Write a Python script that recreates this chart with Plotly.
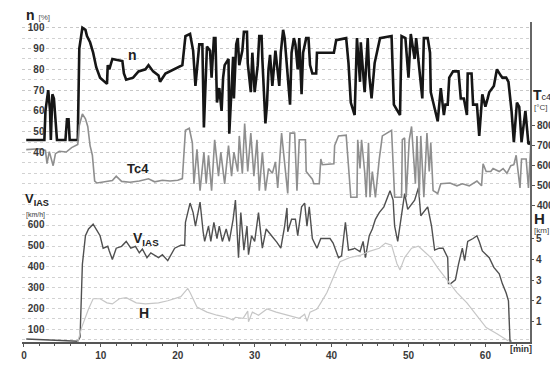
import plotly.graph_objects as go

# ---------------- data ----------------
# engine speed n [%]
n_t = [0.3, 2.66, 2.8, 3.16, 3.4, 3.5, 3.7, 3.9, 4.3, 5.4, 5.6, 5.8, 5.95, 7.0, 7.2, 7.6, 8.0, 8.2, 8.6, 9.0,
       9.4, 9.9, 10.8, 10.9, 11.1, 11.5, 12.8, 13.0, 13.3, 14.2, 14.9, 15.8, 16.2, 16.8, 17.5, 17.7,
       18.4, 19.6, 20.6, 21.0, 21.6, 22.0, 22.3, 22.8, 23.2, 23.4, 23.5, 23.8, 24.2, 24.4, 24.7, 24.9, 25.1,
       25.4, 25.7, 25.9, 26.1, 26.6, 26.7, 27.2, 27.3, 27.6, 27.8, 28.0, 28.4, 28.6, 29.0, 29.1, 29.5, 29.7,
       30.0, 30.4, 30.6, 30.9, 31.0, 31.4, 31.6, 31.8, 32.0, 32.3, 32.7, 32.9, 33.2, 33.4, 33.7, 33.9, 34.3,
       34.6, 34.8, 35.1, 35.3, 35.6, 35.8, 36.1, 36.3, 36.7, 37.0, 37.2, 37.5, 38.0, 38.1, 40.3, 40.6, 41.9,
       42.2, 42.5, 43.0, 43.3, 43.7, 43.8, 44.3, 44.7, 44.9, 45.2, 45.6, 45.9, 46.3, 47.8, 48.1, 48.9, 49.1,
       49.6, 50.0, 50.3, 50.8, 51.0, 51.4, 51.8, 52.0, 52.5, 52.8, 52.9, 53.8, 54.2, 54.6, 54.8, 55.1, 55.3,
       55.8, 56.5, 56.8, 57.2, 57.6, 57.7, 58.2, 58.4, 58.9, 59.2, 59.6, 60.0, 60.3, 60.5, 61.1, 61.5, 62.0,
       62.2, 62.7, 63.0, 63.4, 63.7, 64.1, 64.4, 64.7, 65.2, 65.6, 65.9]
n_v = [46, 46, 60, 70, 60, 46, 68, 66, 46, 46, 56, 56, 46, 46, 90, 100, 99, 96, 93, 88,
       81, 76, 73, 82, 80, 85, 84, 78, 75, 76, 79, 80, 82, 79, 77, 74,
       78, 80, 82, 96, 97, 89, 72, 92, 92, 52, 64, 91, 89, 76, 95, 95, 64,
       71, 60, 76, 82, 85, 49, 86, 66, 92, 95, 82, 89, 98, 98, 83, 69, 88,
       69, 82, 96, 96, 85, 54, 63, 80, 87, 72, 89, 82, 72, 88, 99, 95, 74,
       63, 88, 95, 92, 80, 95, 68, 88, 95, 95, 82, 78, 78, 88, 88, 94, 95,
       83, 64, 58, 95, 74, 93, 69, 95, 77, 66, 83, 88, 95, 96, 63, 58, 96,
       95, 76, 97, 85, 95, 82, 66, 95, 95, 88, 69, 55, 71, 58, 63, 63, 76,
       79, 79, 66, 66, 58, 78, 78, 63, 63, 48, 68, 62, 66, 69, 72, 80, 77,
       76, 76, 74, 60, 45, 64, 62, 45, 60, 44, 45]

# exhaust gas temperature Tc4 [deg C]
tc_t = [0.3, 2.0, 2.8, 3.0, 3.3, 3.8, 4.1, 4.6, 5.5, 6.2, 7.0, 7.2, 7.6, 8.0, 8.3, 8.6, 8.9, 9.2, 9.5, 10.5,
        11.5, 12.0, 12.7, 13.8, 15.0, 16.2, 17.0, 18.0, 19.0, 20.0, 20.6, 21.0, 21.5, 21.9, 22.1, 22.5, 22.9,
        23.4, 23.7, 24.0, 24.4, 24.8, 25.3, 25.6, 26.1, 26.6, 27.0, 27.3, 27.8, 28.0, 28.4, 28.7, 29.1, 29.5,
        29.9, 30.3, 30.6, 31.0, 31.4, 31.8, 32.3, 32.7, 33.0, 33.5, 33.9, 34.3, 34.6, 35.2, 35.5, 35.8, 36.6,
        36.7, 37.5, 37.7, 38.4, 38.6, 38.8, 40.3, 40.4, 40.9, 41.9, 42.2, 42.5, 43.3, 43.4, 43.7, 43.9, 44.3,
        44.5, 44.8, 45.0, 45.3, 45.7, 46.2, 46.6, 47.8, 48.2, 49.1, 49.2, 49.5, 49.7, 50.1, 50.4, 50.9, 51.1,
        51.4, 51.6, 52.0, 52.4, 52.7, 52.9, 53.2, 53.8, 54.2, 55.4, 56.3, 57.0, 57.9, 58.9, 59.5, 59.7, 60.1,
        60.7, 61.0, 61.8, 62.3, 62.8, 63.3, 63.7, 64.0, 64.5, 64.7, 65.3, 65.6, 65.9]
tc_v = [680, 684, 676, 610, 670, 600, 660, 672, 668, 690, 705, 800, 857, 833, 795, 700, 652, 524, 514, 520,
        526, 548, 522, 518, 524, 535, 520, 528, 524, 528, 536, 776, 786, 714, 510, 681, 476,
        667, 510, 652, 476, 729, 548, 667, 510, 700, 548, 667, 571, 748, 560, 810, 571, 762,
        548, 729, 476, 667, 476, 586, 562, 619, 490, 762, 600, 462, 762, 762, 476, 729, 729,
        571, 533, 510, 510, 633, 605, 610, 700, 748, 752, 619, 443, 443, 729, 586, 729, 571,
        443, 714, 443, 571, 443, 633, 748, 776, 443, 443, 729, 738, 443, 729, 795, 510, 748,
        443, 748, 443, 762, 571, 714, 476, 462, 510, 514, 500, 510, 500, 524, 500, 610, 571,
        571, 586, 571, 586, 562, 600, 605, 652, 490, 633, 633, 490, 700]

# indicated air speed V_IAS [km/h]
v_t = [0.3, 3.0, 5.0, 7.0, 7.3, 7.6, 8.0, 8.4, 9.0, 9.5, 9.9, 10.3, 10.9, 11.1, 11.5, 12.0, 12.7, 13.3, 13.9,
       14.5, 15.0, 15.4, 16.0, 16.5, 17.5, 18.0, 18.7, 19.6, 20.4, 20.9, 21.0, 21.6, 22.0, 22.3, 22.9, 23.3,
       23.5, 24.0, 24.3, 24.7, 25.1, 25.4, 25.8, 26.3, 26.7, 27.2, 27.5, 27.9, 28.2, 28.6, 29.0, 29.2, 29.6,
       30.0, 30.5, 31.0, 31.5, 32.2, 32.9, 33.4, 33.9, 34.2, 34.3, 34.8, 35.3, 35.6, 36.1, 36.5, 36.8, 37.1,
       37.5, 38.1, 38.6, 39.8, 40.2, 40.9, 41.3, 41.8, 42.2, 42.8, 43.0, 43.7, 44.1, 44.4, 44.9, 45.3, 45.7,
       46.2, 46.8, 47.6, 48.0, 48.2, 48.6, 49.5, 49.9, 50.8, 51.3, 51.6, 52.5, 53.0, 53.4, 54.0, 54.5, 55.1,
       55.2, 55.5, 56.1, 56.5, 57.0, 57.3, 57.7, 58.4, 58.9, 59.2, 59.6, 60.5, 61.1, 61.8, 62.2, 62.7, 63.0,
       63.2, 63.4]
v_v = [55, 52, 50, 45, 64, 410, 545, 577, 600, 568, 545, 486, 495, 473, 432, 486, 495, 518, 486,
       495, 464, 482, 441, 464, 441, 455, 427, 486, 500, 500, 609, 700, 655, 591, 705, 564,
       518, 591, 518, 609, 532, 591, 518, 577, 518, 623, 714, 441, 655, 477, 591, 455, 545,
       518, 655, 486, 577, 545, 514, 486, 591, 677, 564, 623, 623, 545, 682, 700, 591, 682,
       532, 486, 532, 532, 510, 441, 450, 609, 477, 482, 486, 470, 518, 441, 545, 577, 623,
       655, 682, 759, 714, 591, 518, 745, 670, 714, 773, 640, 682, 591, 477, 486, 486, 441,
       318, 318, 336, 409, 486, 427, 518, 532, 545, 518, 473, 441, 395, 364, 318, 273, 236,
       45, 45]

# altitude H [km]
h_t = [7.0, 7.5, 8.4, 9.0, 9.9, 10.8, 11.5, 12.4, 13.3, 14.6, 15.8, 17.5, 18.7, 20.4, 21.3, 21.6, 22.5, 23.8,
       25.1, 26.3, 27.2, 27.5, 28.5, 29.1, 29.2, 29.7, 30.5, 31.6, 32.8, 34.2, 35.8, 36.5, 36.8, 37.2, 38.1,
       38.6, 39.4, 40.3, 41.1, 42.4, 43.7, 44.9, 46.2, 47.0, 47.8, 48.5, 48.9, 49.5, 50.4, 51.3, 52.0, 52.9,
       53.8, 55.1, 56.3, 57.6, 58.9, 60.1, 61.5, 62.2, 63.0]
h_v = [0.0, 0.7, 1.6, 2.1, 2.1, 1.9, 1.85, 2.1, 2.15, 1.9, 1.85, 1.9, 2.0, 2.2, 2.6, 2.4, 1.7, 1.45,
       1.3, 1.2, 1.07, 1.2, 1.15, 1.5, 0.98, 1.45, 1.3, 1.6, 1.45, 1.3, 1.15, 1.35, 1.0, 1.45, 1.6,
       1.9, 2.4, 3.2, 3.9, 4.1, 4.2, 4.4, 4.55, 4.8, 4.7, 3.8, 3.5, 4.1, 4.55, 4.65, 4.4, 4.1,
       3.6, 3.0, 2.4, 1.9, 1.3, 0.7, 0.4, 0.23, 0.05]

# tick labels
x_ticks = [0, 10, 20, 30, 40, 50, 60]
n_ticks = [40, 50, 60, 70, 80, 90, 100]
v_ticks = [100, 200, 300, 400, 500, 600]
tc_ticks = [400, 500, 600, 700, 800]
h_ticks = [1, 2, 3, 4, 5]

# ---------------- figure ----------------
W, H = 558, 365
ML, MR, MT, MB = 14, 24, 14, 17
PW, PH = W - ML - MR, H - MT - MB

def px(x):
    return (x - ML) / PW

def py(y):
    return (H - MB - y) / PH

FONT = "Liberation Sans"
AX = "#555555"
N_RANGE = [-51.15, 102.76]
V_RANGE = [41, 1559]
LBL_POS = px(37)   # left tick labels sit just inside the plot, right of the axis line

fig = go.Figure()
fig.add_trace(go.Scatter(x=h_t, y=h_v, yaxis="y4", mode="lines",
                         line=dict(color="#c6c6c6", width=1.2), name="H"))
fig.add_trace(go.Scatter(x=tc_t, y=tc_v, yaxis="y3", mode="lines",
                         line=dict(color="#8e8e8e", width=1.6), name="Tc4"))
fig.add_trace(go.Scatter(x=v_t, y=v_v, yaxis="y2", mode="lines",
                         line=dict(color="#505050", width=1.4), name="VIAS"))
fig.add_trace(go.Scatter(x=n_t, y=n_v, yaxis="y", mode="lines",
                         line=dict(color="#161616", width=2.6), name="n"))

tickfont = dict(family=FONT, size=10, color="#3a3a3a", weight="bold")

fig.update_layout(
    width=W, height=H, showlegend=False,
    margin=dict(l=ML, r=MR, t=MT, b=MB, pad=0),
    paper_bgcolor="white", plot_bgcolor="white",
    xaxis=dict(range=[-0.25, 65.8], tickvals=x_ticks, ticks="outside", ticklen=3, tickcolor=AX,
               showline=True, linecolor=AX, linewidth=1.5, showgrid=False, zeroline=False,
               tickfont=tickfont,
               minor=dict(tickmode="linear", tick0=0, dtick=2, ticks="outside", ticklen=2, tickcolor=AX)),
    # n axis: labels (free position inside the plot) + dotted grid
    yaxis=dict(range=N_RANGE, tickvals=n_ticks, anchor="free", position=LBL_POS, side="left",
               ticks="", showline=False, tickfont=tickfont, zeroline=False,
               showgrid=True, gridcolor="#c8c8c8", griddash="dot", gridwidth=1,
               minor=dict(tickmode="linear", tick0=0, dtick=5, showgrid=True, gridcolor="#d2d2d2",
                          griddash="dot", gridwidth=1)),
    # V_IAS axis labels
    yaxis2=dict(range=V_RANGE, tickvals=v_ticks, overlaying="y", anchor="free", position=LBL_POS,
                side="left", ticks="", showgrid=False, zeroline=False, tickfont=tickfont),
    yaxis3=dict(range=[-276, 1314], tickvals=tc_ticks, overlaying="y", side="right",
                ticks="outside", ticklen=3, tickcolor=AX, showline=True, linecolor="#666666",
                linewidth=2, showgrid=False, zeroline=False, tickfont=tickfont),
    yaxis4=dict(range=[0, 15.53], tickvals=h_ticks, overlaying="y", side="right",
                ticks="outside", ticklen=3, tickcolor=AX, showgrid=False, zeroline=False,
                tickfont=tickfont),
    # left axis line with tick marks for n and V_IAS
    yaxis5=dict(range=N_RANGE, tickvals=n_ticks, overlaying="y", side="left", anchor="x",
                showticklabels=False, ticks="outside", ticklen=3, tickcolor=AX,
                showline=True, linecolor="#777777", linewidth=1.5, showgrid=False, zeroline=False),
    yaxis6=dict(range=V_RANGE, tickvals=v_ticks, overlaying="y", side="left", anchor="x",
                showticklabels=False, ticks="outside", ticklen=3, tickcolor=AX,
                showline=False, showgrid=False, zeroline=False),
)

def ann(text, x, y, size, xanchor="left", color="#222222", bold=False):
    fig.add_annotation(text=text, x=px(x), y=py(y), xref="paper", yref="paper",
                       xanchor=xanchor, yanchor="middle", showarrow=False,
                       font=dict(family=FONT, size=size, color=color,
                                 weight="bold" if bold else "normal"))

# axis titles
ann("<b>n</b> <span style='font-size:8px;color:#555'>[%]</span>", 16, 7, 14)
ann("<b>V<sub>IAS</sub></b>", 15, 199, 13)
ann("[km/h]", 16, 215, 7, color="#444")
ann("<b>T</b><span style='font-size:9px'>c4</span>", 535, 90, 14)
ann("[°C]", 536, 103, 8, color="#444")
ann("<b>H</b>", 536, 219, 15)
ann("[km]", 536, 232, 8, color="#444")
ann("[min]", 511, 355, 9, color="#333", bold=True)

# in-plot series labels
ann("n", 127, 48, 14, xanchor="center", bold=True)
ann("Tc4", 133, 167, 13, xanchor="center", bold=True)
ann("V<sub>IAS</sub>", 141, 241, 14, xanchor="center", bold=True)
ann("H", 139, 318, 14, xanchor="center", bold=True)

fig.write_html("out.html")
